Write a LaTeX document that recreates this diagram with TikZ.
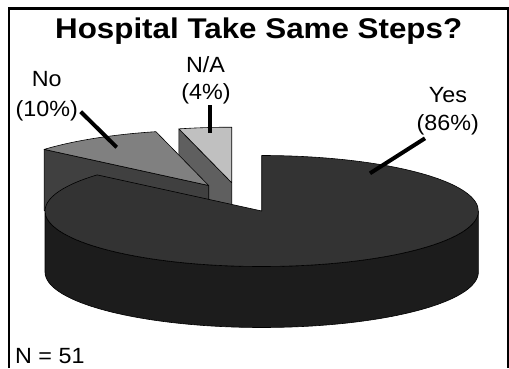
\documentclass[tikz,border=0pt]{standalone}
\usepackage{fontspec}
\usetikzlibrary{calc}
\setmainfont{Liberation Sans}
\newfontfamily\titlefont{Liberation Sans}[FakeStretch=1.1]
\newfontfamily\labelfont{Liberation Sans}[FakeStretch=1.06]
\definecolor{yestop}{HTML}{333333}
\definecolor{yesside}{HTML}{1C1C1C}
\definecolor{notop}{HTML}{808080}
\definecolor{noside}{HTML}{404040}
\definecolor{natop}{HTML}{C0C0C0}
\definecolor{naside}{HTML}{5F5F5F}
\tikzset{
  slice/.style={draw=black, line width=0.6pt, line join=round},
  leader/.style={draw=black, line width=4pt},
  lbl/.style={font=\labelfont\fontsize{22}{26}\selectfont, anchor=base, inner sep=0pt},
  frameline/.style={draw=black, line width=2.6pt}
}
\begin{document}
\begin{tikzpicture}[x=1pt,y=1pt]
\useasboundingbox (0,0) rectangle (509,368);
% frame
\draw[frameline] (9,0) -- (9,359.3) -- (507.8,359.3) -- (507.8,0);
% title
\node[anchor=base, inner sep=0pt, font=\titlefont\bfseries\fontsize{28.5}{34}\selectfont] (title) at (258.7,330) {Hospital Take Same Steps?};
% N/A slice (exploded)
\coordinate (B) at (231.7,185.3);
\filldraw[slice, fill=naside] (B) -- ++(104.1:216.7pt and 55.5pt) -- ++(0,-61) -- ($(B)+(0,-61)$) -- cycle;
\filldraw[slice, fill=natop] (B) -- ++(104.1:216.7pt and 55.5pt) arc[start angle=104.1, end angle=90, x radius=216.7pt, y radius=55.5pt] -- cycle;
% No slice (exploded)
\coordinate (A) at (208.7,182.5);
\filldraw[slice, fill=noside] (A) -- ++(139.4:216.7pt and 55.5pt) -- ++(0,-61) -- ($(A)+(0,-61)$) -- cycle;
\filldraw[slice, fill=notop] (A) -- ++(139.4:216.7pt and 55.5pt) arc[start angle=139.4, end angle=104.1, x radius=216.7pt, y radius=55.5pt] -- cycle;
% Yes slice
\coordinate (C) at (261.7,157);
\filldraw[slice, fill=yesside] (45,157) -- (45,96) arc[start angle=180, end angle=360, x radius=216.7pt, y radius=55.5pt] -- (478.4,157) arc[start angle=0, end angle=-180, x radius=216.7pt, y radius=55.5pt] -- cycle;
\filldraw[slice, fill=yestop] (C) -- ++(139.4:216.7pt and 55.5pt) arc[start angle=139.4, end angle=450, x radius=216.7pt, y radius=55.5pt] -- cycle;
% labels
\node[lbl] (no1) at (46.7,281.3) {No};
\node[lbl] (no2) at (46.7,251.3) {(10\%)};
\node[lbl] (na1) at (205.5,295.5) {N/A};
\node[lbl] (na2) at (206,268.5) {(4\%)};
\node[lbl] (yes1) at (448,265.7) {Yes};
\node[lbl] (yes2) at (447.7,238) {(86\%)};
\node[lbl, anchor=base west] (n) at (15,4.7) {N = 51};
% leaders
\coordinate (noA) at (80.7,256.3);
\coordinate (noB) at (116.7,220.7);
\coordinate (naA) at (210,263);
\coordinate (naB) at (210,234.7);
\coordinate (yesA) at (425,229.7);
\coordinate (yesB) at (370,194.7);
\draw[leader] (noA) -- (noB);
\draw[leader] (naA) -- (naB);
\draw[leader] (yesA) -- (yesB);
\end{tikzpicture}
\end{document}
